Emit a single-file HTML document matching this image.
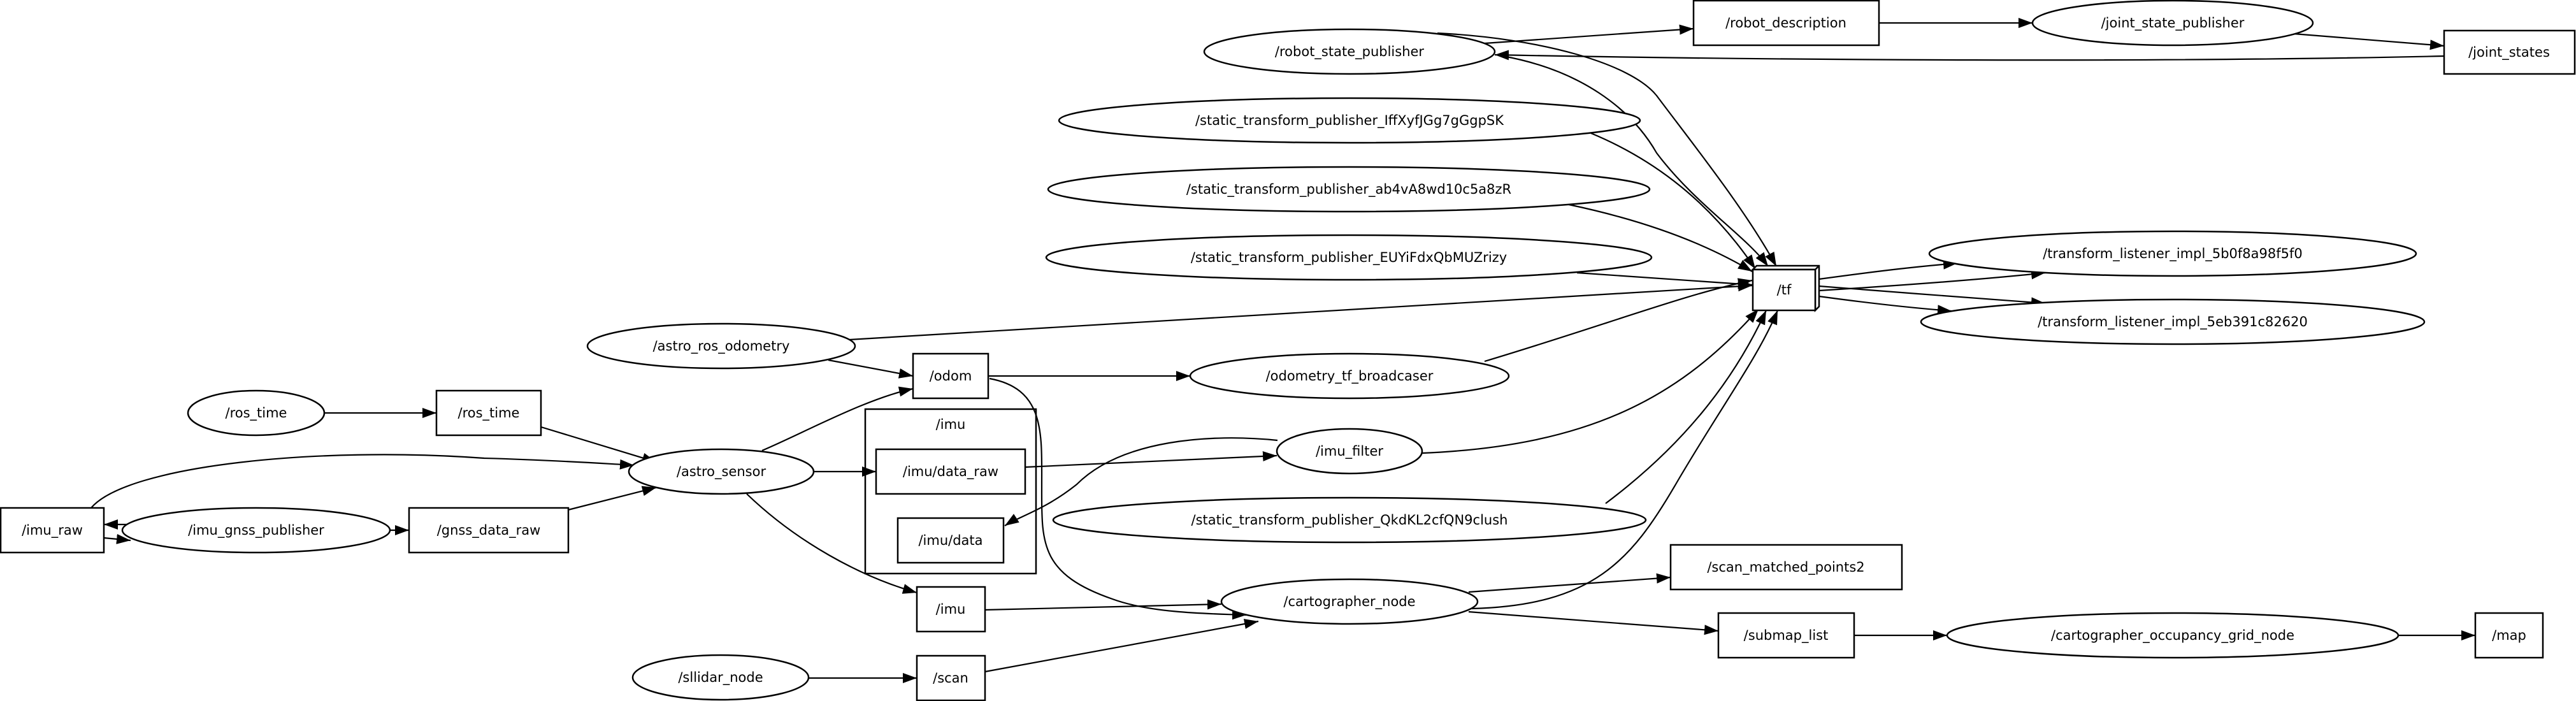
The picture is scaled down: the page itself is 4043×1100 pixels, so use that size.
<!DOCTYPE html>
<html><head><meta charset="utf-8">
<style>
html,body{margin:0;padding:0;background:#fff;}
svg{display:block;}
text{font-family:"DejaVu Sans","Liberation Sans",sans-serif;font-size:21px;fill:#000;text-anchor:middle;dominant-baseline:central;}
.n{fill:#fff;stroke:#000;stroke-width:2.5;}
.e{fill:none;stroke:#000;stroke-width:2.2;}
</style></head>
<body>
<svg width="4043" height="1100" viewBox="0 0 4043 1100" xmlns="http://www.w3.org/2000/svg">
<defs>
<marker id="a" markerUnits="userSpaceOnUse" markerWidth="24" markerHeight="18" refX="22" refY="8" orient="auto">
<path d="M0,0 L22,8 L0,16 Z" fill="#000"/>
</marker>
</defs>

<rect class="n" x="1358" y="642" width="268" height="258"/>
<text x="1492" y="666">/imu</text>

<g class="e" marker-end="url(#a)">
<path d="M509,648 L685,648"/>
<path d="M849,670 L1030,725"/>
<path d="M143,797 C200,730 500,700 760,719 C870,722 940,727 995,730"/>
<path d="M205,823 L163,823"/>
<path d="M163,844 L205,848"/>
<path d="M612,832 L642,832"/>
<path d="M892,800 L1030,765"/>
<path d="M1277,740 L1375,740"/>
<path d="M1196,707 C1260,680 1360,625 1433,610"/>
<path d="M1300,565 L1433,590"/>
<path d="M1333,533 L2750,448"/>
<path d="M1172,775 C1250,850 1350,905 1439,930"/>
<path d="M1551,590 L1868,590"/>
<path d="M1553,594 C1640,610 1635,680 1635,760 C1635,850 1630,900 1746,940 C1800,960 1880,963 1956,965"/>
<path d="M2005,691 C1900,680 1760,690 1690,760 C1640,800 1600,810 1577,825"/>
<path d="M1609,733 L2004,715"/>
<path d="M2232,711 C2500,700 2640,620 2760,485"/>
<path d="M2330,567 C2520,510 2650,460 2750,440"/>
<path d="M2520,790 C2640,700 2720,600 2772,487"/>
<path d="M2310,955 C2500,950 2560,880 2630,760 C2700,640 2760,560 2790,487"/>
<path d="M1546,957 L1917,948"/>
<path d="M1546,1054 L1975,975"/>
<path d="M1269,1064 L1439,1064"/>
<path d="M2305,929 L2622,906"/>
<path d="M2305,960 L2697,990"/>
<path d="M2910,997 L3056,997"/>
<path d="M3763,997 L3885,997"/>
<path d="M2330,68 L2658,45"/>
<path d="M2949,36 L3190,36"/>
<path d="M3600,53 L3836,72"/>
<path d="M3836,88 C3400,98 2800,95 2346,86"/>
<path d="M2256,52 C2420,60 2560,100 2600,150 C2660,230 2740,330 2788,418"/>
<path d="M2359,88 C2480,110 2560,170 2600,240 C2660,320 2740,370 2775,418"/>
<path d="M2497,209 C2620,260 2700,340 2755,422"/>
<path d="M2462,321 C2600,350 2690,390 2750,426"/>
<path d="M2475,428 L2750,447"/>
<path d="M2855,438 C2950,425 3010,418 3072,413"/>
<path d="M2855,456 C2950,450 3100,440 3210,428"/>
<path d="M2855,449 C2970,458 3100,468 3210,476"/>
<path d="M2855,465 C2950,478 3010,484 3063,488"/>
</g>

<ellipse class="n" cx="1132" cy="543" rx="210" ry="35"/><text x="1132" y="543">/astro_ros_odometry</text>
<ellipse class="n" cx="402" cy="648" rx="107" ry="35"/><text x="402" y="648">/ros_time</text>
<rect class="n" x="685" y="613" width="164" height="70"/><text x="767" y="648">/ros_time</text>
<ellipse class="n" cx="1132" cy="740" rx="145" ry="35"/><text x="1132" y="740">/astro_sensor</text>
<rect class="n" x="1" y="797" width="162" height="70"/><text x="82" y="832">/imu_raw</text>
<ellipse class="n" cx="402" cy="832" rx="210" ry="35"/><text x="402" y="832">/imu_gnss_publisher</text>
<rect class="n" x="642" y="797" width="250" height="70"/><text x="767" y="832">/gnss_data_raw</text>
<ellipse class="n" cx="1131" cy="1063" rx="138" ry="35"/><text x="1131" y="1063">/sllidar_node</text>
<rect class="n" x="1433" y="555" width="118" height="70"/><text x="1492" y="590">/odom</text>
<ellipse class="n" cx="2118" cy="590" rx="250" ry="35"/><text x="2118" y="590">/odometry_tf_broadcaser</text>
<rect class="n" x="1375" y="705" width="234" height="70"/><text x="1492" y="740">/imu/data_raw</text>
<rect class="n" x="1409" y="813" width="166" height="70"/><text x="1492" y="848">/imu/data</text>
<ellipse class="n" cx="2118" cy="708" rx="114" ry="35"/><text x="2118" y="708">/imu_filter</text>
<ellipse class="n" cx="2118" cy="816" rx="465" ry="35"/><text x="2118" y="816">/static_transform_publisher_QkdKL2cfQN9clush</text>
<rect class="n" x="1439" y="921" width="107" height="70"/><text x="1492" y="956">/imu</text>
<ellipse class="n" cx="2118" cy="944" rx="201" ry="35"/><text x="2118" y="944">/cartographer_node</text>
<rect class="n" x="1439" y="1029" width="107" height="70"/><text x="1492" y="1064">/scan</text>
<rect class="n" x="2622" y="855" width="363" height="70"/><text x="2803" y="890">/scan_matched_points2</text>
<rect class="n" x="2697" y="962" width="213" height="70"/><text x="2803" y="997">/submap_list</text>
<ellipse class="n" cx="3410" cy="997" rx="354" ry="35"/><text x="3410" y="997">/cartographer_occupancy_grid_node</text>
<rect class="n" x="3885" y="962" width="106" height="70"/><text x="3938" y="997">/map</text>
<ellipse class="n" cx="2118" cy="81" rx="228" ry="35"/><text x="2118" y="81">/robot_state_publisher</text>
<ellipse class="n" cx="2118" cy="189" rx="456" ry="35"/><text x="2118" y="189">/static_transform_publisher_IffXyfJGg7gGgpSK</text>
<ellipse class="n" cx="2117" cy="297" rx="472" ry="35"/><text x="2117" y="297">/static_transform_publisher_ab4vA8wd10c5a8zR</text>
<ellipse class="n" cx="2117" cy="404" rx="475" ry="35"/><text x="2117" y="404">/static_transform_publisher_EUYiFdxQbMUZrizy</text>
<rect class="n" x="2658" y="1" width="291" height="70"/><text x="2803" y="36">/robot_description</text>
<ellipse class="n" cx="3410" cy="36" rx="220" ry="35"/><text x="3410" y="36">/joint_state_publisher</text>
<rect class="n" x="3836" y="48" width="205" height="68"/><text x="3938" y="82">/joint_states</text>
<ellipse class="n" cx="3410" cy="398" rx="382" ry="35"/><text x="3410" y="398">/transform_listener_impl_5b0f8a98f5f0</text>
<ellipse class="n" cx="3410" cy="505" rx="395" ry="35"/><text x="3410" y="505">/transform_listener_impl_5eb391c82620</text>
<path class="n" d="M2751,423 L2757,417 L2855,417 L2855,481 L2849,487 L2849,423 Z"/>
<path class="n" d="M2849,423 L2855,417"/>
<rect class="n" x="2751" y="423" width="98" height="64"/><text x="2800" y="455">/tf</text>
</svg>
</body></html>
